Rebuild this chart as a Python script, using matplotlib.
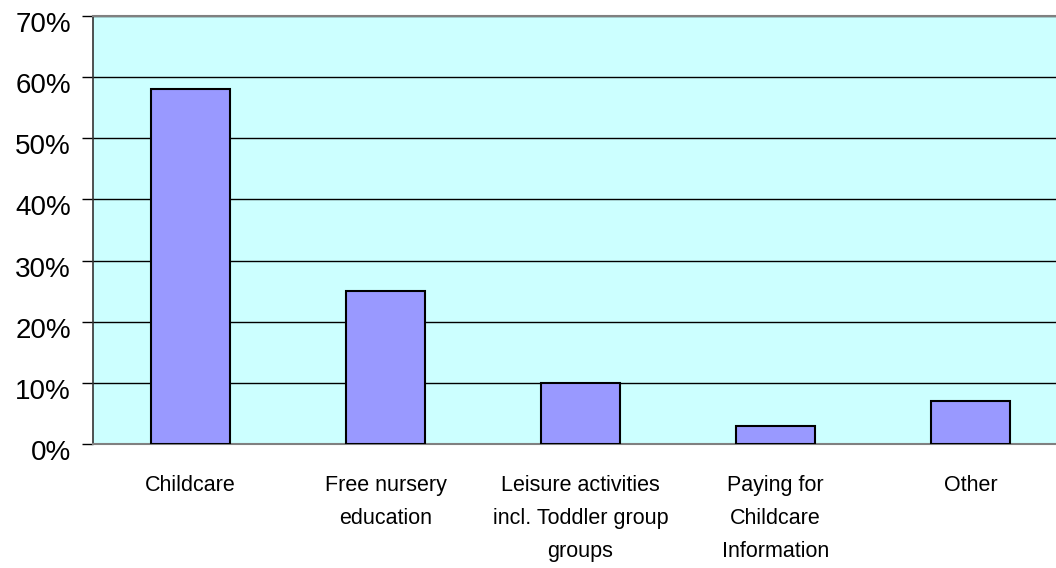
import numpy as np
import matplotlib.pyplot as plt
import matplotlib.transforms as mtransforms
from matplotlib.ticker import FuncFormatter, MultipleLocator

categories = ["Childcare", "Free nursery\neducation", "Leisure activities\nincl. Toddler group\ngroups",
              "Paying for\nChildcare\nInformation", "Other"]
values = [58, 25, 10, 3, 7]

fig = plt.figure(figsize=(10.56, 5.68), dpi=100)
ax = fig.add_axes([93 / 1056, 1 - 444 / 568, 975 / 1056, 428 / 568])
ax.set_facecolor("#CCFFFF")

x = np.arange(len(categories))
ax.bar(x, values, width=0.41, color="#9999FF", edgecolor="black", linewidth=1.5, zorder=3)

ax.set_xlim(-0.5, len(categories) - 0.5)
ax.set_ylim(0, 70)
ax.yaxis.set_major_locator(MultipleLocator(10))
ax.yaxis.set_major_formatter(FuncFormatter(lambda v, p: f"{v:.0f}%"))
ax.grid(axis="y", color="black", linewidth=1, zorder=1)

ax.set_xticks(x)
ax.set_xticklabels(categories, family=["Liberation Sans", "DejaVu Sans"],
                   fontsize=15.5, linespacing=1.75)
ax.tick_params(axis="x", length=0, pad=22)
ax.tick_params(axis="y", length=8, width=1, direction="out", pad=8)
shift = mtransforms.ScaledTranslation(0, -6 / 100, fig.dpi_scale_trans)
for lab in ax.get_yticklabels():
    lab.set_family(["Liberation Sans", "DejaVu Sans"])
    lab.set_fontsize(20)
    lab.set_transform(lab.get_transform() + shift)

ax.spines["right"].set_visible(False)
ax.spines["top"].set_color("#808080")
ax.spines["top"].set_linewidth(1.5)
ax.spines["bottom"].set_color("#808080")
ax.spines["bottom"].set_linewidth(1.5)
ax.spines["left"].set_color("#333333")
ax.spines["left"].set_linewidth(1.2)

fig.savefig("out.png", dpi=100)
